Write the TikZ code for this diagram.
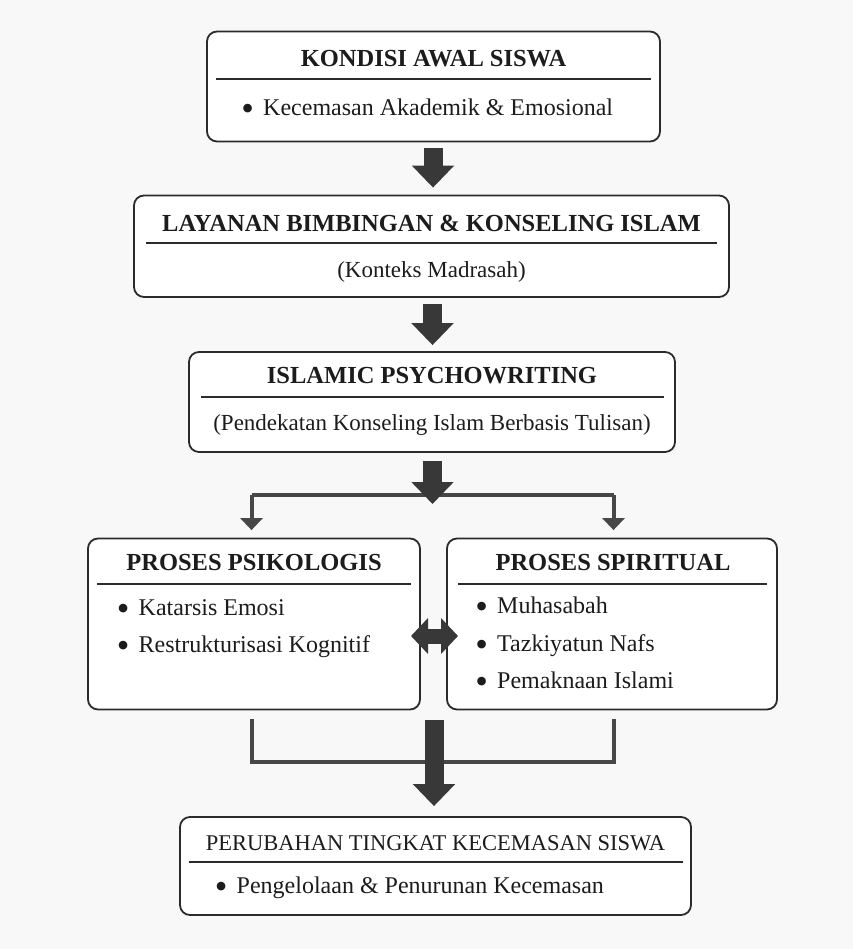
\documentclass[tikz,border=0pt]{standalone}
\usepackage{fontspec}
\setmainfont{Liberation Serif}
\usetikzlibrary{arrows.meta,calc}
\definecolor{bgc}{HTML}{F8F8F8}
\definecolor{txt}{HTML}{1C1C1C}
\definecolor{boxc}{HTML}{2B2B2B}
\definecolor{arrc}{HTML}{383838}
\definecolor{conc}{HTML}{474747}
\tikzset{
  box/.style={draw=boxc, line width=1.8pt, rounded corners=10pt, fill=white, inner sep=0pt},
  ttl/.style={font=\fontsize{24.5}{28}\selectfont\bfseries, text=txt, anchor=base, inner sep=0pt},
  ttlreg/.style={font=\fontsize{22.5}{26}\selectfont, text=txt, anchor=base, inner sep=0pt},
  sub/.style={font=\fontsize{23}{27}\selectfont, text=txt, anchor=base, inner sep=0pt},
  item/.style={font=\fontsize{24}{28}\selectfont, text=txt, anchor=base west, inner sep=0pt},
  rulel/.style={draw=boxc, line width=1.3pt},
  bigarrow/.style={draw=arrc, line width=19pt, -{Triangle[width=41pt,length=22pt]}},
  conn/.style={draw=conc, line width=4pt},
  smallarrow/.style={conn, -{Triangle[width=22pt,length=12pt]}},
  dblarrow/.style={draw=arrc, line width=15pt, {Triangle[width=35pt,length=17pt]}-{Triangle[width=35pt,length=17pt]}},
}
\newcommand{\bul}[1]{\makebox[0pt][c]{\raisebox{-5.2pt}{\scalebox{1.5}{\textbullet}}}\hspace{15.5pt}#1}
\begin{document}
\begin{tikzpicture}[x=1pt,y=-1pt]
\useasboundingbox (0,0) rectangle (853,949);
\fill[bgc] (0,0) rectangle (853,949);

% boxes
\node[box, minimum width=453pt, minimum height=110pt] (b1) at (433.5,86.5) {};
\node[box, minimum width=595pt, minimum height=101.5pt] (b2) at (431.5,246.25) {};
\node[box, minimum width=486pt, minimum height=100pt] (b3) at (432,402) {};
\node[box, minimum width=332pt, minimum height=171pt] (b4) at (254,624) {};
\node[box, minimum width=330pt, minimum height=171pt] (b5) at (612,624) {};
\node[box, minimum width=511pt, minimum height=98pt] (b6) at (435.5,866) {};

% box 1
\node[ttl] (t1) at (433.5,66.5) {KONDISI AWAL SISWA};
\draw[rulel] (216,79) -- (651,79);
\node[item] (i1) at (247.5,115.5) {\bul{Kecemasan Akademik \& Emosional}};

% box 2
\node[ttl] (t2) at (431.5,231.5) {LAYANAN BIMBINGAN \& KONSELING ISLAM};
\draw[rulel] (146,243) -- (717,243);
\node[sub] (s2) at (431.5,277) {(Konteks Madrasah)};

% box 3
\node[ttl] (t3) at (432,383.5) {ISLAMIC PSYCHOWRITING};
\draw[rulel] (201,397) -- (664,397);
\node[sub] (s3) at (432,430) {(Pendekatan Konseling Islam Berbasis Tulisan)};

% box 4
\node[ttl] (t4) at (254,570) {PROSES PSIKOLOGIS};
\draw[rulel] (97,584) -- (411,584);
\node[item] (i41) at (123,615) {\bul{Katarsis Emosi}};
\node[item] (i42) at (123,652) {\bul{Restrukturisasi Kognitif}};

% box 5
\node[ttl] (t5) at (613,570) {PROSES SPIRITUAL};
\draw[rulel] (458,584) -- (767,584);
\node[item] (i51) at (481.5,613) {\bul{Muhasabah}};
\node[item] (i52) at (481.5,651) {\bul{Tazkiyatun Nafs}};
\node[item] (i53) at (481.5,688) {\bul{Pemaknaan Islami}};

% box 6
\node[ttlreg] (t6) at (435.5,850.5) {PERUBAHAN TINGKAT KECEMASAN SISWA};
\draw[rulel] (189,862) -- (683,862);
\node[item] (i6) at (221,893) {\bul{Pengelolaan \& Penurunan Kecemasan}};

% straight arrows
\draw[bigarrow] ($(b1.south)+(-0.5,6)$) -- ($(b1.south |- b2.north)+(-0.5,-7)$);
\draw[bigarrow] ($(b2.south)+(1,6.5)$) -- ($(b2.south |- b3.north)+(1,-6)$);

% split
\coordinate (sp) at (432.5,495);
\coordinate (jl) at (251.5,495);
\coordinate (jr) at (613.5,495);
\draw[conn] (jl) -- (jr);
\draw[smallarrow, shorten >=7.5pt] (jl) -- (jl |- b4.north);
\draw[smallarrow, shorten >=7.5pt] (jr) -- (jr |- b5.north);
\draw[bigarrow] (sp |- b3.south) ++(0,8) -- ($(sp)+(0,9)$);

% double arrow
\coordinate (dm) at (434.5,636);
\draw[dblarrow] ($(dm)+(-23.5,0)$) -- ($(dm)+(23.5,0)$);

% merge
\coordinate (ml) at ($(b4.south -| jl)+(0,8.5)$);
\coordinate (mr) at ($(b5.south -| jr)+(0,8.5)$);
\coordinate (mg) at (434,762);
\draw[conn] (ml) -- (ml |- mg) -- (mr |- mg) -- (mr);
\draw[bigarrow] ($(mg)+(0,-42)$) -- ($(mg |- b6.north)+(0,-10)$);
\end{tikzpicture}
\end{document}
